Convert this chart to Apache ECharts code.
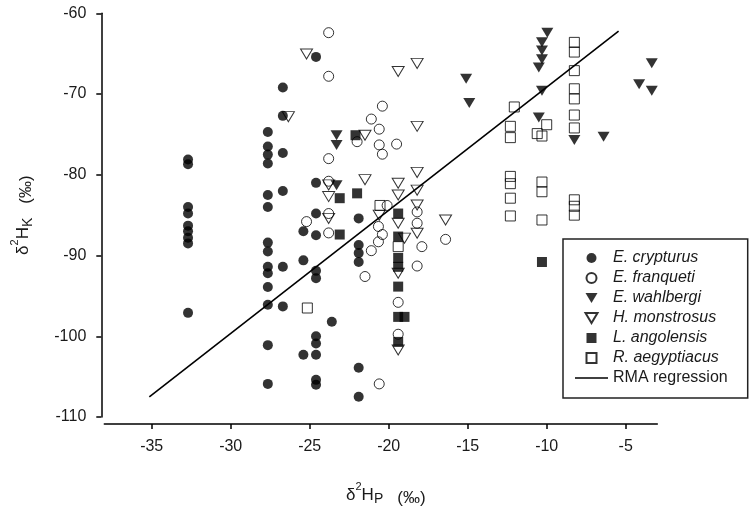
<!DOCTYPE html>
<html>
<head>
<meta charset="utf-8">
<script src="https://cdn.jsdelivr.net/npm/echarts@6/dist/echarts.min.js"></script>
<style>html,body{margin:0;padding:0;background:#fff}#c{width:755px;height:516px}</style>
</head>
<body>
<div id="c"></div>
<script>
const speciesNames = ['E. crypturus','E. franqueti','E. wahlbergi','H. monstrosus','L. angolensis','R. aegyptiacus'];
const lineName = 'RMA regression';

const crypturus = [
 [-32.7,-78.1],[-32.7,-78.7],[-32.7,-84.0],[-32.7,-84.8],[-32.7,-86.3],[-32.7,-87.0],[-32.7,-87.8],[-32.7,-88.5],[-32.7,-97.1],
 [-27.65,-74.7],[-27.65,-76.5],[-27.65,-77.5],[-27.65,-78.6],[-27.65,-82.5],[-27.65,-84.0],[-27.65,-88.4],[-27.65,-89.5],[-27.65,-91.4],[-27.65,-92.2],[-27.65,-93.9],[-27.65,-96.1],[-27.65,-101.1],[-27.65,-105.9],
 [-26.7,-69.2],[-26.7,-72.7],[-26.7,-77.3],[-26.7,-82.0],[-26.7,-91.4],[-26.7,-96.3],
 [-25.4,-87.0],[-25.4,-90.6],[-25.4,-102.3],
 [-24.6,-65.4],[-24.6,-81.0],[-24.6,-84.8],[-24.6,-87.5],[-24.6,-91.9],[-24.6,-92.8],[-24.6,-100.0],[-24.6,-100.9],[-24.6,-102.3],[-24.6,-105.4],[-24.6,-106.0],
 [-23.6,-98.2],
 [-21.9,-85.4],[-21.9,-88.7],[-21.9,-89.7],[-21.9,-90.8],[-21.9,-103.9],[-21.9,-107.5]
];
const franqueti = [
 [-23.8,-62.4],[-23.8,-67.8],[-23.8,-78.0],[-23.8,-80.8],[-23.8,-84.8],[-23.8,-87.2],[-25.2,-85.8],[-22.0,-75.9],
 [-21.1,-73.1],[-20.4,-71.5],[-20.6,-74.35],[-20.6,-76.3],[-20.4,-77.45],[-19.5,-76.2],[-20.1,-83.8],[-20.65,-86.4],
 [-20.4,-87.4],[-20.65,-88.3],[-21.1,-89.4],[-21.5,-92.6],[-19.4,-95.8],[-19.4,-99.75],[-18.2,-84.6],[-18.2,-86.0],
 [-17.9,-88.9],[-18.2,-91.3],[-16.4,-88.0],[-20.6,-105.9]
];
const wahlbergi = [
 [-23.3,-75.1],[-23.3,-76.3],[-23.3,-81.3],[-15.1,-68.1],[-14.9,-71.1],[-9.96,-62.4],[-10.3,-63.6],[-10.3,-64.6],
 [-10.3,-65.7],[-10.5,-66.7],[-10.3,-69.6],[-10.5,-72.9],[-8.25,-75.7],[-6.4,-75.3],[-3.35,-66.2],[-4.15,-68.8],[-3.35,-69.6]
];
const monstrosus = [
 [-25.2,-65.05],[-26.35,-72.8],[-23.8,-81.25],[-23.8,-82.7],[-23.8,-85.4],[-21.5,-75.1],[-19.4,-67.2],[-18.2,-66.2],
 [-18.2,-74.0],[-18.2,-79.7],[-21.5,-80.6],[-20.6,-85.0],[-19.4,-81.05],[-19.4,-82.5],[-19.4,-86.0],[-19.4,-92.2],
 [-19.4,-101.7],[-19.0,-87.85],[-18.2,-81.9],[-18.2,-83.75],[-18.2,-87.25],[-16.4,-85.6]
];
const angolensis = [
 [-22.1,-75.1],[-23.1,-82.9],[-23.1,-87.4],[-22.0,-82.3],[-19.4,-84.8],[-19.4,-87.65],[-19.4,-90.3],[-19.4,-91.4],
 [-19.4,-93.85],[-19.4,-97.6],[-19.0,-97.6],[-19.4,-100.7],[-10.3,-90.8]
];
const aegyptiacus = [
 [-25.15,-96.5],[-20.55,-83.8],[-19.4,-88.9],[-12.05,-71.6],[-12.3,-74.0],[-12.3,-75.4],[-12.3,-80.2],[-12.3,-81.1],
 [-12.3,-82.9],[-12.3,-85.1],[-10.0,-73.8],[-10.6,-74.9],[-10.3,-75.2],[-10.3,-80.9],[-10.3,-82.1],[-10.3,-85.6],
 [-8.25,-63.6],[-8.25,-64.8],[-8.25,-67.1],[-8.25,-69.35],[-8.25,-70.6],[-8.25,-72.6],[-8.25,-74.2],[-8.25,-83.1],
 [-8.25,-83.9],[-8.25,-85.0]
];
const regression = [[-35.15,-107.5],[-5.45,-62.2]];
const xTicks = [-35,-30,-25,-20,-15,-10,-5];
const yTicks = [-110,-100,-90,-80,-70,-60];

const FONT = 'Liberation Sans, Arial, sans-serif';
const TXT = '#1a1a1a';
const tri = 'path://M0,0L12,0L6,10Z';
const sq = 'path://M0,0L10,0L10,10L0,10Z';
const lineIcon = 'path://M0,0L33,0L33,1.6L0,1.6Z';
const filled = {color:'#000'};
const hollow = {color:'rgba(255,255,255,0)', borderColor:'#000', borderWidth:1};

function titleRich(sub, first){
  return '{' + first + '|δ}{sup|2}{d|H}{sub|' + sub + '}{p|(‰)}';
}
const rich = {
  d0:{fontSize:17, lineHeight:20, padding:[0,0,0,10], fontFamily:FONT, color:TXT},
  d:{fontSize:17, lineHeight:20, fontFamily:FONT, color:TXT},
  sup:{fontSize:11, lineHeight:11, padding:[0,0,16,0], fontFamily:FONT, color:TXT},
  sub:{fontSize:14, lineHeight:14, padding:[9,0,0,0], fontFamily:FONT, color:TXT},
  p:{fontSize:17, lineHeight:17, padding:[6,0,0,14], fontFamily:FONT, color:TXT}
};

const chart = echarts.init(document.getElementById('c'), null, {renderer:'canvas'});
chart.setOption({
  animation:false,
  backgroundColor:'#fff',
  grid:{left:104.3, right:97.7, top:13.3, bottom:99, containLabel:false, outerBoundsMode:'none'},
  xAxis:{
    type:'value', min:-38, max:-3, offset:7,
    splitLine:{show:false},
    axisLine:{show:true, onZero:false, lineStyle:{color:'#000', width:1.5}},
    axisTick:{show:true, length:5, lineStyle:{color:'#000', width:1.5}, customValues:xTicks},
    axisLabel:{customValues:xTicks, fontSize:16, fontFamily:FONT, color:TXT, margin:15},
    name:titleRich('P','d0'), nameLocation:'middle', nameGap:61,
    nameTextStyle:{rich:rich}
  },
  yAxis:{
    type:'value', min:-110, max:-60, interval:10, offset:3,
    splitLine:{show:false},
    axisLine:{show:true, onZero:false, lineStyle:{color:'#000', width:1.5}},
    axisTick:{show:true, length:5, lineStyle:{color:'#000', width:1.5}},
    axisLabel:{fontSize:16, fontFamily:FONT, color:TXT, margin:15},
    name:titleRich('K','d'), nameLocation:'middle', nameGap:68, nameRotate:90,
    nameTextStyle:{rich:rich}
  },
  legend:{
    orient:'vertical', left:563, top:239,
    itemWidth:33, itemHeight:10, itemGap:0, itemTextGap:14,
    padding:[9,20,10,12],
    borderColor:'#222', borderWidth:1.5, backgroundColor:'#fff',
    data:speciesNames.concat([{name:lineName, icon:lineIcon}]),
    formatter:function(n){ return n === lineName ? '{n|' + n + '}' : n; },
    textStyle:{fontFamily:FONT, fontSize:16, fontStyle:'italic', lineHeight:20, color:TXT,
      rich:{n:{fontFamily:FONT, fontSize:16, fontStyle:'normal', lineHeight:20, color:TXT}}}
  },
  series:[
    {name:lineName, type:'line', data:regression, symbol:'none', z:1,
     lineStyle:{color:'#000', width:1.6}, itemStyle:{color:'#000'}},
    {name:speciesNames[0], type:'scatter', data:crypturus, symbol:'circle', symbolSize:10, itemStyle:filled, z:2},
    {name:speciesNames[1], type:'scatter', data:franqueti, symbol:'circle', symbolSize:10, itemStyle:hollow, z:3},
    {name:speciesNames[2], type:'scatter', data:wahlbergi, symbol:tri, symbolSize:[12,10], itemStyle:filled, z:2},
    {name:speciesNames[3], type:'scatter', data:monstrosus, symbol:tri, symbolSize:[12,10], itemStyle:hollow, z:3},
    {name:speciesNames[4], type:'scatter', data:angolensis, symbol:sq, symbolSize:10, itemStyle:filled, z:2},
    {name:speciesNames[5], type:'scatter', data:aegyptiacus, symbol:sq, symbolSize:10, itemStyle:hollow, z:3}
  ]
});
</script>
</body>
</html>
